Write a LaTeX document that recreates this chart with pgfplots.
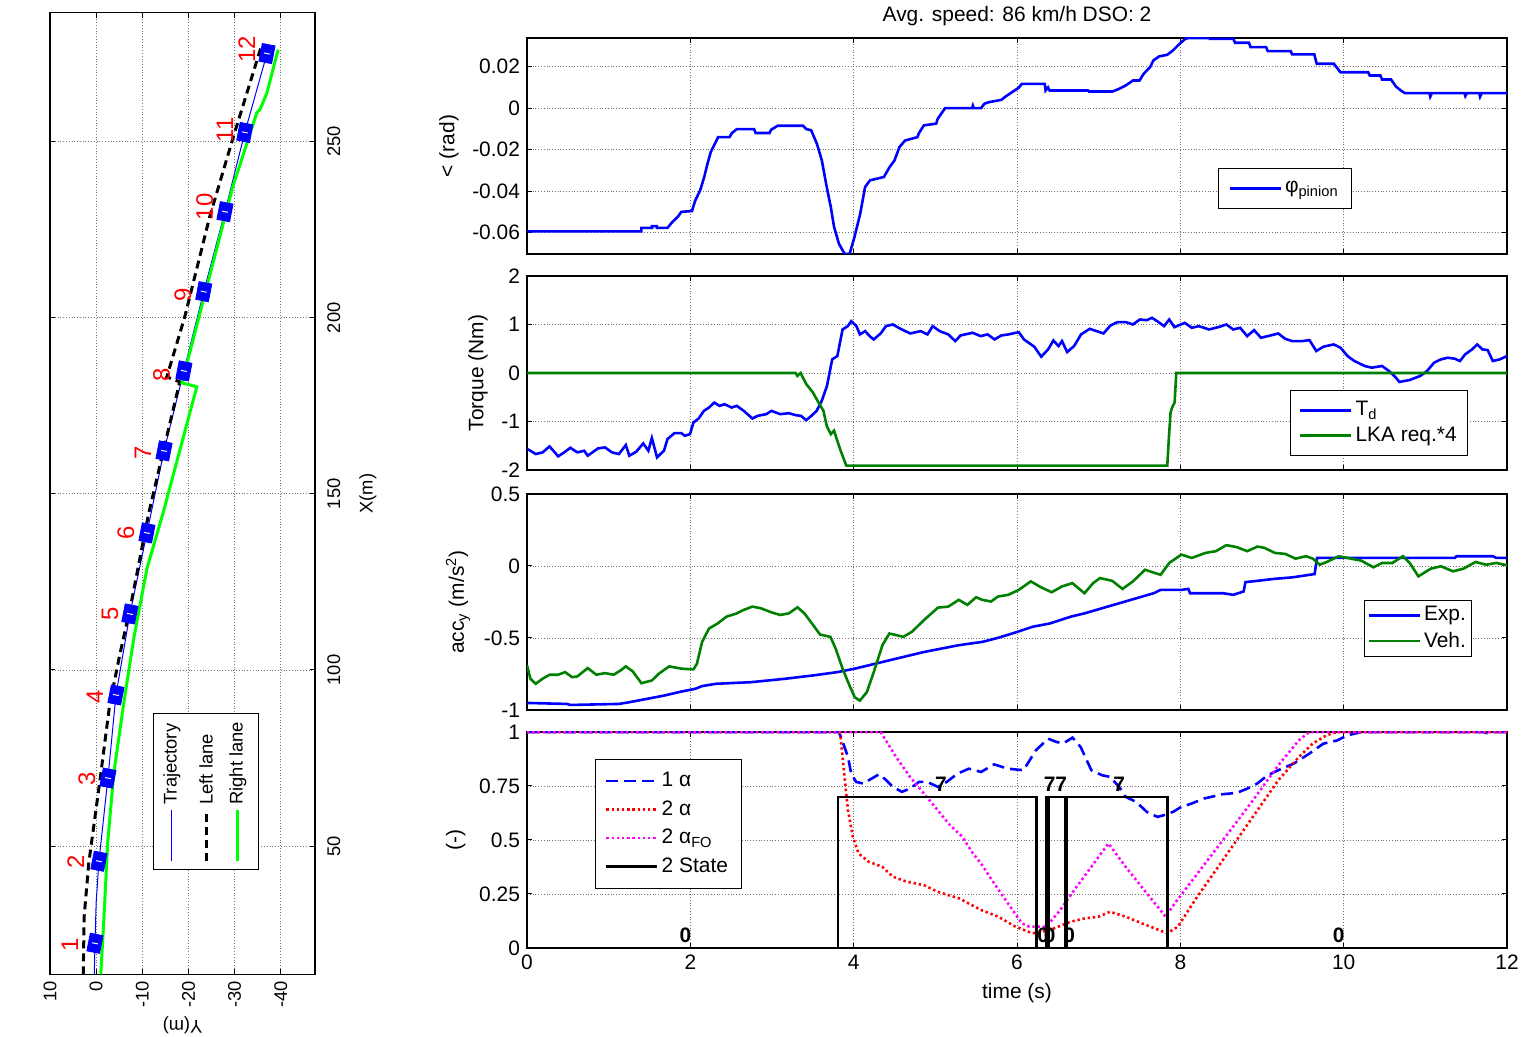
\documentclass[border=0pt]{standalone}
\usepackage{pgfplots}
\pgfplotsset{compat=1.18}
\usepackage{fontspec}
\setmainfont{Liberation Sans}

\definecolor{mblue}{rgb}{0,0,1}
\definecolor{mgreen}{rgb}{0,0.5,0}
\definecolor{lgreen}{rgb}{0,1,0}
\definecolor{mmag}{rgb}{1,0,1}
\newcommand\fs{\fontsize{10.5}{12.6}\selectfont}
\newcommand\fsl{\fontsize{9.2}{11}\selectfont}

\pgfplotsset{
  matlab/.style={
    scale only axis,
    /pgf/number format/assume math mode=true,
    tick align=inside,
    major tick length=2.5bp,
    grid=major,
    grid style={densely dotted, black!55, line width=0.4pt},
    axis line style={line width=0.7pt},
    tick style={black, line width=0.5pt},
    tick label style={font=\fs},
    label style={font=\fs},
    scaled ticks=false,
    legend cell align=left,
    legend style={font=\fs, draw=black, line width=0.5pt, row sep=1pt,
      nodes={inner sep=1.5pt}},
    legend image code/.code={\draw[##1] (0cm,0cm) -- (0.9cm,0cm);},
  },
  tpanel/.style={matlab, anchor=south west, width=490bp,
    xmin=0, xmax=12, xtick={0,2,...,12}},
}

\begin{document}
\begin{tikzpicture}
\useasboundingbox (0,0) rectangle (761.5bp,518.5bp);

% ---------------- left: trajectory (drawn turned by 90 degrees)
\begin{axis}[matlab, anchor=south west, at={(25bp,31.35bp)},
  width=132.5bp, height=480.8bp,
  x dir=reverse, xmin=-47.4, xmax=10, ymin=13.6, ymax=286.6,
  xtick={-40,-30,...,10}, ytick={50,100,...,250},
  yticklabel pos=right,
  tick label style={font=\fsl},
  xticklabel style={rotate=90, anchor=east},
  yticklabel style={rotate=90, anchor=north, inner sep=6bp},
  xlabel={Y(m)},
  xlabel style={font=\fsl, rotate=180, anchor=center, at={([yshift=-25.5bp]axis description cs:0.5,0)}},
  ylabel={X(m)}, ylabel style={font=\fsl}]
\addplot[mblue, line width=0.5pt] coordinates {
(0.4,13.6) (0.26,22.4) (0.0,34) (-0.6,45.7) (-2.55,69.3) (-4.29,92.9) (-7.3,115.9)
(-11.0,138.9) (-14.7,162.2) (-19.0,184.9) (-23.3,207.4) (-27.9,230.1) (-32.2,252.6) (-37.0,275.0)};
\addplot[black, line width=1.5pt, dash pattern=on 4bp off 2.5bp] coordinates {
(2.8,13.6) (2.6,30) (1.6,45.2) (0.0,60.7) (-1.0,70.5) (-2.9,89.9) (-5.0,103.6) (-7.6,119.1)
(-10.5,138.6) (-11.4,144.6) (-14.5,161.9) (-18.1,181.8) (-15.3,183.2) (-19.2,200.3)
(-24.6,228.7) (-29.4,250) (-32.2,261.9) (-35.9,277.6)};
\addplot[lgreen, line width=1.5pt] coordinates {
(-1.0,13.6) (-1.7,30) (-2.5,51) (-3.8,70.5) (-5.9,89.9) (-8.2,109.4) (-11.0,128.8) (-14.5,144.6)
(-21.8,180.4) (-18.6,181.5) (-19.7,187.2) (-22.5,201.4) (-29.6,237.2) (-34.8,258.2)
(-35.5,259.1) (-37.0,263.9) (-39.4,276.1)};
\addplot[only marks, mark=square*, mark size=4.5bp,
  mark options={draw=mblue, fill=mblue, rotate=-11, xscale=0.72}] coordinates {
(0.26,22.4) (-0.6,45.7) (-2.55,69.3) (-4.29,92.9) (-7.3,115.9) (-11.0,138.9)
(-14.7,162.2) (-19.0,184.9) (-23.3,207.4) (-27.9,230.1) (-32.2,252.6) (-37.0,275.0)};
\addplot[only marks, mark=-, mark size=1.5bp,
  mark options={white, line width=0.5pt, rotate=-11}] coordinates {
(0.26,22.4) (-0.6,45.7) (-2.55,69.3) (-4.29,92.9) (-7.3,115.9) (-11.0,138.9)
(-14.7,162.2) (-19.0,184.9) (-23.3,207.4) (-27.9,230.1) (-32.2,252.6) (-37.0,275.0)};
\begin{scope}[every node/.style={red, rotate=90, font=\fontsize{12}{14}\selectfont, inner sep=0pt}]
\node at (axis cs:5.7,21.9) {1};
\node at (axis cs:4.4,45.5) {2};
\node at (axis cs:2.0,69) {3};
\node at (axis cs:0.26,92.3) {4};
\node at (axis cs:-3.0,115.9) {5};
\node at (axis cs:-6.45,138.9) {6};
\node at (axis cs:-10.1,161.6) {7};
\node at (axis cs:-14.2,183.8) {8};
\node at (axis cs:-18.8,206.5) {9};
\node at (axis cs:-23.5,231.5) {10};
\node at (axis cs:-27.9,253.4) {11};
\node at (axis cs:-32.6,276.1) {12};
\end{scope}
% legend, turned like the rest of this panel
\draw[black, line width=0.5pt, fill=white]
  (axis description cs:0.389,0.1085) rectangle (axis description cs:0.785,0.2717);
\draw[mblue, line width=0.5pt]
  (axis description cs:0.460,0.1175) -- (axis description cs:0.460,0.1705);
\draw[black, line width=1.5pt, dash pattern=on 4bp off 2.5bp]
  (axis description cs:0.589,0.1175) -- (axis description cs:0.589,0.1705);
\draw[lgreen, line width=1.5pt]
  (axis description cs:0.709,0.1175) -- (axis description cs:0.709,0.1705);
\begin{scope}[every node/.style={rotate=90, anchor=west, font=\fsl, inner sep=1bp}]
\node at (axis description cs:0.460,0.174) {Trajectory};
\node at (axis description cs:0.589,0.174) {Left lane};
\node at (axis description cs:0.709,0.174) {Right lane};
\end{scope}
\node[rotate=90, anchor=south, font=\fontsize{9.6}{11}\selectfont] at ([xshift=-6bp]axis description cs:0,0.5)
  {Avg. speed: 86 km/h DSO: 2};
\end{axis}

% ---------------- panel 1: pinion angle
\begin{axis}[tpanel, at={(263.5bp,391.5bp)}, height=108bp, xticklabels={},
  ymin=-0.0703, ymax=0.0338, ytick={-0.06,-0.04,-0.02,0,0.02},
  yticklabel style={/pgf/number format/fixed, /pgf/number format/precision=2},
  ylabel={< (rad)},
  title={Avg. speed: 86 km/h DSO: 2}, title style={font=\fs, yshift=-3.5bp},
  legend style={at={(0.705,0.398)}, anchor=north west, inner sep=5bp}]
\addplot[mblue, line width=1.3pt] coordinates {
(0,-0.0594) (1.40,-0.0594) (1.40,-0.0577) (1.53,-0.0577) (1.53,-0.0569) (1.59,-0.0569)
(1.59,-0.0577) (1.72,-0.0577) (1.78,-0.0549) (1.85,-0.0522) (1.89,-0.0500) (2.02,-0.0496)
(2.06,-0.0445) (2.12,-0.0397) (2.17,-0.0332) (2.21,-0.0268) (2.25,-0.0212) (2.31,-0.0164)
(2.34,-0.0140) (2.48,-0.0140) (2.51,-0.0120) (2.57,-0.0101) (2.78,-0.0101) (2.80,-0.0120)
(2.97,-0.0120) (2.99,-0.0104) (3.07,-0.0085) (3.38,-0.0085) (3.42,-0.0101) (3.48,-0.0107)
(3.55,-0.0172) (3.61,-0.0252) (3.67,-0.0380) (3.72,-0.0477) (3.76,-0.0573) (3.82,-0.0654)
(3.89,-0.0703) (3.95,-0.0703) (4.01,-0.0621) (4.08,-0.0509) (4.14,-0.0380) (4.20,-0.0348)
(4.37,-0.0332) (4.44,-0.0284) (4.50,-0.0252) (4.56,-0.0188) (4.63,-0.0156) (4.78,-0.0140)
(4.80,-0.0120) (4.86,-0.0083) (5.01,-0.0075) (5.03,-0.0051) (5.12,0) (5.45,0) (5.46,0.0012)
(5.47,0) (5.56,0) (5.60,0.0021) (5.66,0.0029) (5.81,0.0040) (5.85,0.0053) (5.94,0.0077)
(6.02,0.0098) (6.06,0.0117) (6.34,0.0117) (6.35,0.0085) (6.38,0.0100) (6.40,0.0085)
(6.87,0.0085) (6.88,0.0080) (7.17,0.0080) (7.25,0.0093) (7.33,0.0109) (7.42,0.0133)
(7.50,0.0133) (7.55,0.0165) (7.63,0.0198) (7.67,0.0230) (7.74,0.0249) (7.84,0.0257)
(7.91,0.0278) (7.97,0.0302) (8.06,0.0334) (8.10,0.0338) (8.35,0.0338) (8.36,0.0334)
(8.65,0.0334) (8.67,0.0315) (8.84,0.0315) (8.86,0.0294) (9.05,0.0294) (9.07,0.0275)
(9.35,0.0275) (9.37,0.0259) (9.64,0.0259) (9.67,0.0214) (9.88,0.0214) (9.96,0.0173)
(10.30,0.0173) (10.32,0.0157) (10.45,0.0157) (10.47,0.0138) (10.58,0.0138) (10.64,0.0104)
(10.70,0.0085) (10.75,0.0072) (11.05,0.0072) (11.06,0.0055) (11.08,0.0072) (11.48,0.0072)
(11.49,0.0058) (11.51,0.0072) (11.66,0.0072) (11.67,0.0055) (11.69,0.0072) (12,0.0072)};
\addlegendentry{φ\textsubscript{pinion}}
\end{axis}

% ---------------- panel 2: torque
\begin{axis}[tpanel, at={(263.5bp,283.5bp)}, height=97bp, xticklabels={},
  ymin=-2, ymax=2, ytick={-2,-1,0,1,2},
  ylabel={Torque (Nm)},
  legend style={at={(0.779,0.412)}, anchor=north west, inner sep=4bp}]
\addplot[mblue, line width=1.3pt] coordinates {
(0,-1.568) (0.042,-1.603) (0.106,-1.671) (0.191,-1.637) (0.276,-1.514) (0.382,-1.719)
(0.467,-1.623) (0.531,-1.541) (0.616,-1.637) (0.701,-1.603) (0.743,-1.705) (0.870,-1.555)
(0.955,-1.534) (1.040,-1.637) (1.125,-1.671) (1.210,-1.486) (1.253,-1.705) (1.338,-1.623)
(1.423,-1.452) (1.486,-1.603) (1.529,-1.342) (1.592,-1.740) (1.677,-1.603) (1.720,-1.363)
(1.805,-1.240) (1.890,-1.240) (1.932,-1.295) (1.996,-1.260) (2.038,-1.021) (2.102,-0.938)
(2.166,-0.781) (2.229,-0.712) (2.293,-0.610) (2.357,-0.678) (2.420,-0.644) (2.505,-0.712)
(2.569,-0.678) (2.654,-0.781) (2.760,-0.938) (2.824,-0.884) (2.930,-0.849) (2.994,-0.781)
(3.100,-0.849) (3.206,-0.829) (3.291,-0.870) (3.355,-0.884) (3.418,-0.973) (3.482,-0.884)
(3.546,-0.781) (3.609,-0.575) (3.673,-0.267) (3.737,0.281) (3.800,0.349) (3.864,0.897)
(3.928,0.966) (3.970,1.068) (4.034,0.966) (4.076,0.795) (4.140,0.863) (4.204,0.747)
(4.246,0.692) (4.331,0.815) (4.395,0.966) (4.480,1.000) (4.565,0.918) (4.692,0.815)
(4.820,0.863) (4.904,0.795) (4.968,0.966) (5.053,0.863) (5.159,0.795) (5.244,0.658)
(5.308,0.774) (5.456,0.829) (5.555,0.760) (5.640,0.795) (5.725,0.692) (5.809,0.774)
(5.894,0.795) (6.021,0.842) (6.085,0.692) (6.212,0.541) (6.297,0.336) (6.381,0.486)
(6.445,0.671) (6.508,0.555) (6.551,0.658) (6.614,0.432) (6.699,0.555) (6.784,0.795)
(6.890,0.911) (6.975,0.863) (7.059,0.815) (7.144,0.979) (7.229,1.048) (7.335,1.048)
(7.419,1.000) (7.504,1.103) (7.589,1.089) (7.653,1.137) (7.716,1.068) (7.801,0.966)
(7.864,1.103) (7.928,0.945) (8.055,1.034) (8.140,0.932) (8.225,0.966) (8.352,0.897)
(8.479,0.952) (8.564,1.000) (8.648,0.897) (8.733,0.932) (8.818,0.760) (8.903,0.884)
(8.987,0.726) (9.072,0.760) (9.199,0.815) (9.284,0.705) (9.369,0.658) (9.496,0.658)
(9.581,0.678) (9.665,0.452) (9.750,0.541) (9.877,0.589) (9.962,0.521) (10.047,0.349)
(10.131,0.247) (10.258,0.144) (10.343,0.110) (10.470,0.144) (10.555,0.041) (10.640,-0.096)
(10.682,-0.185) (10.809,-0.144) (10.936,-0.062) (11.021,0.041) (11.106,0.212) (11.191,0.281)
(11.275,0.315) (11.360,0.295) (11.424,0.247) (11.487,0.384) (11.572,0.486) (11.636,0.589)
(11.699,0.486) (11.763,0.473) (11.826,0.247) (11.911,0.281) (12,0.349)};
\addlegendentry{T\textsubscript{d}}
\addplot[mgreen, line width=1.3pt] coordinates {
(0,0) (3.29,0) (3.31,-0.06) (3.35,0) (3.42,-0.23) (3.50,-0.40) (3.57,-0.61) (3.63,-0.78)
(3.67,-1.09) (3.72,-1.26) (3.76,-1.19) (3.80,-1.40) (3.84,-1.60) (3.91,-1.91) (7.84,-1.91)
(7.86,-1.33) (7.88,-0.82) (7.90,-0.71) (7.93,-0.61) (7.95,0) (12,0)};
\addlegendentry{LKA req.*4}
\end{axis}

% ---------------- panel 3: lateral acceleration
\begin{axis}[tpanel, at={(263.5bp,163.5bp)}, height=108bp, xticklabels={},
  ymin=-1, ymax=0.5, ytick={-1,-0.5,0,0.5},
  ylabel={acc\textsubscript{y} (m/s\textsuperscript{2})},
  legend style={at={(0.854,0.509)}, anchor=north west, inner sep=1.5bp}]
\addplot[mblue, line width=1.3pt] coordinates {
(0,-0.951) (0.488,-0.958) (0.531,-0.965) (1.125,-0.958) (1.253,-0.946) (1.465,-0.923)
(1.677,-0.900) (1.890,-0.872) (2.059,-0.853) (2.144,-0.834) (2.314,-0.818) (2.739,-0.807)
(3.163,-0.783) (3.503,-0.760) (3.800,-0.737) (4.013,-0.713) (4.437,-0.655) (4.862,-0.597)
(5.287,-0.550) (5.575,-0.527) (5.767,-0.499) (5.979,-0.462) (6.191,-0.422) (6.403,-0.399)
(6.657,-0.352) (6.826,-0.329) (7.038,-0.294) (7.250,-0.259) (7.462,-0.224) (7.674,-0.189)
(7.758,-0.166) (8.013,-0.166) (8.097,-0.159) (8.119,-0.189) (8.521,-0.189) (8.648,-0.200)
(8.775,-0.177) (8.797,-0.112) (8.945,-0.103) (9.157,-0.089) (9.369,-0.079) (9.538,-0.065)
(9.644,-0.056) (9.674,0.056) (11.360,0.056) (11.381,0.068) (11.826,0.068) (11.869,0.056)
(12,0.056)};
\addlegendentry{Exp.}
\addplot[mgreen, line width=1.3pt] coordinates {
(0,-0.690) (0.042,-0.783) (0.106,-0.818) (0.191,-0.783) (0.276,-0.755) (0.382,-0.755)
(0.467,-0.737) (0.552,-0.772) (0.616,-0.767) (0.743,-0.709) (0.849,-0.755) (0.955,-0.744)
(1.062,-0.755) (1.146,-0.725) (1.210,-0.697) (1.295,-0.732) (1.401,-0.814) (1.529,-0.795)
(1.614,-0.748) (1.741,-0.697) (1.890,-0.713) (2.038,-0.718) (2.081,-0.678) (2.144,-0.527)
(2.229,-0.434) (2.335,-0.399) (2.442,-0.352) (2.569,-0.329) (2.654,-0.305) (2.760,-0.282)
(2.866,-0.294) (2.994,-0.322) (3.100,-0.340) (3.206,-0.329) (3.312,-0.287) (3.397,-0.329)
(3.503,-0.410) (3.588,-0.476) (3.715,-0.492) (3.779,-0.573) (3.864,-0.713) (3.949,-0.830)
(4.013,-0.911) (4.076,-0.935) (4.161,-0.876) (4.246,-0.737) (4.352,-0.550) (4.437,-0.469)
(4.522,-0.480) (4.607,-0.492) (4.713,-0.457) (4.862,-0.375) (5.032,-0.289) (5.159,-0.282)
(5.287,-0.235) (5.393,-0.270) (5.499,-0.217) (5.575,-0.235) (5.682,-0.247) (5.767,-0.212)
(5.894,-0.200) (6.021,-0.166) (6.169,-0.107) (6.297,-0.149) (6.424,-0.182) (6.551,-0.142)
(6.678,-0.119) (6.826,-0.189) (6.932,-0.119) (7.017,-0.084) (7.165,-0.103) (7.292,-0.159)
(7.419,-0.107) (7.568,-0.026) (7.653,-0.042) (7.758,-0.061) (7.864,0.021) (8.013,0.079)
(8.140,0.056) (8.309,0.091) (8.436,0.103) (8.564,0.145) (8.691,0.131) (8.818,0.103)
(8.945,0.135) (9.030,0.126) (9.157,0.091) (9.284,0.084) (9.411,0.051) (9.538,0.068)
(9.623,0.051) (9.708,0.009) (9.792,0.028) (9.941,0.068) (10.089,0.051) (10.216,0.037)
(10.364,-0.009) (10.470,0.021) (10.597,0.021) (10.725,0.068) (10.809,0.021) (10.915,-0.072)
(11.064,-0.019) (11.191,-0.002) (11.339,-0.037) (11.466,-0.019) (11.614,0.028) (11.742,0.009)
(11.869,0.021) (12,0.005)};
\addlegendentry{Veh.}
\end{axis}

% ---------------- panel 4: weights and state
\begin{axis}[tpanel, at={(263.5bp,44.5bp)}, height=108bp,
  ymin=0, ymax=1, ytick={0,0.25,0.5,0.75,1},
  yticklabel style={/pgf/number format/fixed, /pgf/number format/precision=2},
  ylabel={(-)}, xlabel={time (s)},
  legend style={at={(0.069,0.875)}, anchor=north west, row sep=2.5pt, inner sep=5bp}]
\addplot[mblue, line width=1.3pt, dash pattern=on 6bp off 3bp] coordinates {
(0,1) (3.82,1) (3.86,0.96) (3.93,0.885) (3.97,0.807) (4.03,0.769) (4.12,0.761) (4.20,0.78)
(4.31,0.804) (4.39,0.78) (4.48,0.746) (4.59,0.723) (4.69,0.738) (4.80,0.769) (4.90,0.769)
(5.03,0.746) (5.14,0.769) (5.27,0.807) (5.41,0.83) (5.56,0.815) (5.72,0.85) (5.89,0.83)
(6.08,0.823) (6.23,0.915) (6.38,0.969) (6.49,0.953) (6.57,0.948) (6.68,0.974) (6.78,0.93)
(6.91,0.823) (7.04,0.80) (7.14,0.792) (7.25,0.746) (7.33,0.70) (7.46,0.676) (7.59,0.63)
(7.72,0.607) (7.80,0.615) (7.91,0.63) (8.01,0.653) (8.14,0.669) (8.29,0.692) (8.52,0.712)
(8.69,0.718) (8.82,0.738) (8.94,0.761) (9.07,0.80) (9.24,0.83) (9.39,0.854) (9.58,0.90)
(9.75,0.946) (9.92,0.961) (10.05,0.985) (10.22,1.0) (11.7,1.0) (11.75,0.995) (11.8,1.0) (12,1)};
\addlegendentry{1 α}
\addplot[red, line width=1.3pt, dash pattern=on 1.2bp off 1.4bp] coordinates {
(0,1) (3.82,1) (3.84,0.977) (3.88,0.823) (3.93,0.638) (3.99,0.515) (4.06,0.438) (4.18,0.40)
(4.35,0.376) (4.48,0.33) (4.65,0.307) (4.86,0.291) (5.03,0.26) (5.29,0.23) (5.56,0.176)
(5.77,0.145) (5.98,0.099) (6.19,0.068) (6.40,0.083) (6.66,0.122) (6.83,0.137) (7.0,0.145)
(7.14,0.168) (7.33,0.145) (7.55,0.111) (7.84,0.068) (7.97,0.099) (8.18,0.222) (8.52,0.407)
(8.86,0.592) (9.20,0.777) (9.45,0.884) (9.62,0.946) (9.79,0.985) (9.92,1.0) (12,1)};
\addlegendentry{2 α}
\addplot[mmag, line width=1.3pt, dash pattern=on 1.2bp off 1.4bp] coordinates {
(0,1) (4.33,1) (4.52,0.884) (4.69,0.792) (4.86,0.715) (5.03,0.638) (5.16,0.576) (5.33,0.515)
(5.46,0.438) (5.56,0.391) (5.72,0.299) (5.89,0.206) (6.06,0.114) (6.15,0.099) (6.36,0.099)
(6.53,0.176) (6.70,0.268) (6.91,0.376) (7.12,0.484) (7.33,0.376) (7.59,0.253) (7.82,0.145)
(7.93,0.206) (8.18,0.33) (8.52,0.499) (8.86,0.669) (9.20,0.846) (9.45,0.961) (9.58,1.0) (12,1)};
\addlegendentry{2 α\textsubscript{FO}}
\addplot[black, line width=1.3pt] coordinates {
(0,0) (3.81,0) (3.81,0.7) (6.24,0.7) (6.24,0) (6.36,0) (6.36,0.7) (6.375,0.7) (6.375,0)
(6.385,0) (6.385,0.7) (6.59,0.7) (6.59,0) (6.61,0) (6.61,0.7) (7.84,0.7) (7.84,0) (12,0)};
\addlegendentry{2 State}
\begin{scope}[every node/.style={font=\fs\bfseries, inner sep=0pt}]
\node at (axis cs:1.94,0.06) {0};
\node at (axis cs:5.07,0.76) {7};
\node at (axis cs:6.47,0.76) {77};
\node at (axis cs:7.25,0.76) {7};
\node at (axis cs:6.32,0.06) {0};
\node at (axis cs:6.40,0.06) {0};
\node at (axis cs:6.64,0.06) {0};
\node at (axis cs:9.94,0.06) {0};
\end{scope}
\end{axis}
\end{tikzpicture}
\end{document}
